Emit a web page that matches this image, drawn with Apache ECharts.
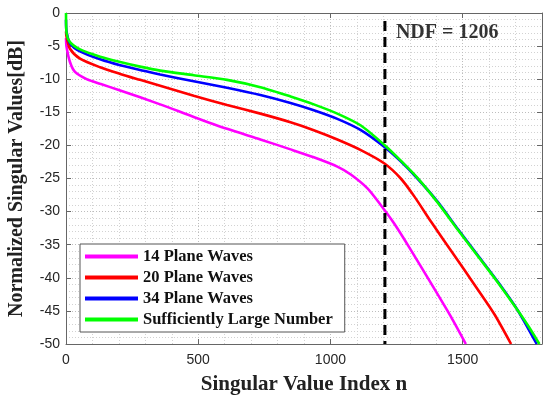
<!DOCTYPE html>
<html><head><meta charset="utf-8">
<script src="https://cdn.jsdelivr.net/npm/echarts@6/dist/echarts.min.js"></script>
<style>html,body{margin:0;padding:0;background:#fff}#c{width:550px;height:398px}</style>
</head><body><div id="c"></div>
<script>
const seriesNames = ['14 Plane Waves','20 Plane Waves','34 Plane Waves','Sufficiently Large Number'];
const colors = ['#ff00ff','#ff0000','#0000ff','#00ff00'];
const x14 = [0,2,15,34,78,129,205,356,483,609,735,849,937,1026,1077,1140,1190,1241,1298,1392,1456,1512];
const y14 = [-3.8,-5.1,-7.4,-8.9,-10.0,-10.7,-11.7,-13.8,-15.7,-17.5,-19.1,-20.6,-21.8,-23.2,-24.4,-26.5,-29.0,-31.8,-35.4,-41.6,-45.9,-50];
const x20 = [0,2,15,53,129,205,280,356,483,609,735,849,937,1026,1115,1203,1266,1317,1380,1468,1544,1620,1683];
const y20 = [-2.8,-3.6,-5.4,-6.9,-8.2,-9.2,-10.1,-11.0,-12.5,-13.9,-15.2,-16.5,-17.7,-19.1,-20.7,-22.7,-25.0,-27.7,-31.5,-36.6,-41.0,-45.5,-50];
const x34 = [0,2,15,53,129,205,280,356,483,609,735,849,937,1026,1115,1203,1266,1329,1405,1481,1557,1633,1708,1780];
const y34 = [-1,-2.8,-4.6,-5.8,-7.0,-7.9,-8.6,-9.3,-10.3,-11.3,-12.4,-13.6,-14.7,-16.0,-17.7,-20.2,-22.4,-25.0,-28.5,-32.6,-36.6,-40.6,-44.9,-50];
const xL = [0,2,15,53,129,205,280,356,483,609,735,849,937,1026,1115,1203,1266,1329,1405,1481,1557,1633,1708,1750,1790];
const yL = [0,-3,-4.4,-5.5,-6.6,-7.4,-8.1,-8.7,-9.4,-10.1,-11.2,-12.6,-13.8,-15.2,-17.0,-19.9,-22.3,-24.9,-28.6,-32.7,-36.7,-40.7,-44.9,-47.4,-50];
const ndf = 1206;
const ndfLineY = [-1.2,-50];
const ndfLabelY = -3.0;
const xTicks = [0,500,1000,1500];
const yTicks = [0,-5,-10,-15,-20,-25,-30,-35,-40,-45,-50];

const pairs = (xs, ys) => xs.map((x,i)=>[x, ys[i]]);
const allX = [x14,x20,x34,xL], allY = [y14,y20,y34,yL];

const serif = '"Liberation Serif","Times New Roman",serif';
const sans = '"Liberation Sans",Arial,sans-serif';
const gridMajor = {show:true,lineStyle:{color:'#bdbdbd',type:[1,2],width:1}};
const gridMinor = {show:true,lineStyle:{color:'#d2d2d2',type:[1,2],width:1}};

const series = seriesNames.map((n,i)=>({
  name:n, type:'line', data:pairs(allX[i],allY[i]), showSymbol:false, smooth:0.25,
  lineStyle:{color:colors[i],width:2.6}, itemStyle:{color:colors[i]}, z:3+i
}));
series.push({
  type:'line', data:ndfLineY.map(y=>[ndf,y]), showSymbol:false, silent:true,
  lineStyle:{color:'#000',width:3,type:[10,6]}, z:10
});
series.push({
  type:'scatter', data:[[ndf, ndfLabelY]], symbolSize:0, silent:true,
  label:{show:true,position:'right',distance:11,formatter:'NDF = '+ndf,
    fontFamily:serif,fontWeight:'bold',fontSize:20,color:'#000'}, z:11
});

const chart = echarts.init(document.getElementById('c'));
chart.setOption({
  animation:false,
  grid:{left:66,right:8,top:13,bottom:54,show:false,containLabel:false,outerBoundsMode:'none'},
  legend:{
    data:seriesNames, orient:'vertical', left:80, top:244,
    backgroundColor:'#fff', borderColor:'#555', borderWidth:1,
    padding:[4,12,4,5], itemGap:4, itemWidth:53, itemHeight:4, icon:'rect',
    textStyle:{fontFamily:serif,fontWeight:'bold',fontSize:16.5,color:'#111',lineHeight:16}
  },
  xAxis:[{
    type:'value', min:0, max:1800, interval:500,
    axisLine:{show:true,onZero:false,lineStyle:{color:'#666'}},
    axisTick:{show:true,inside:true,length:5,lineStyle:{color:'#666'}},
    axisLabel:{showMaxLabel:false,fontFamily:sans,fontSize:14,color:'#262626',margin:9,
      formatter:v=>xTicks.includes(v)?String(v):''},
    minorTick:{show:true,splitNumber:5,length:0}, splitLine:gridMajor, minorSplitLine:gridMinor,
    name:'Singular Value Index n', nameLocation:'middle', nameGap:30,
    nameTextStyle:{fontFamily:serif,fontWeight:'bold',fontSize:21,color:'#222'}
  },{
    type:'value', position:'top', min:0, max:1800, interval:500,
    axisLine:{show:true,onZero:false,lineStyle:{color:'#666'}},
    axisTick:{show:true,inside:true,length:5,lineStyle:{color:'#666'}},
    axisLabel:{show:false}, splitLine:{show:false}
  }],
  yAxis:[{
    type:'value', min:-50, max:0, interval:5,
    axisLine:{show:true,onZero:false,lineStyle:{color:'#666'}},
    axisTick:{show:true,inside:true,length:5,lineStyle:{color:'#666'}},
    axisLabel:{fontFamily:sans,fontSize:14,color:'#262626',margin:6,
      formatter:v=>yTicks.includes(v)?String(v):''},
    minorTick:{show:true,splitNumber:5,length:0}, splitLine:gridMajor, minorSplitLine:gridMinor,
    name:'Normalized Singular Values[dB]', nameLocation:'middle', nameGap:39,
    nameTextStyle:{fontFamily:serif,fontWeight:'bold',fontSize:20,color:'#222'}
  },{
    type:'value', position:'right', min:-50, max:0, interval:5,
    axisLine:{show:true,onZero:false,lineStyle:{color:'#666'}},
    axisTick:{show:true,inside:true,length:5,lineStyle:{color:'#666'}},
    axisLabel:{show:false}, splitLine:{show:false}
  }],
  series:series
});
</script></body></html>
